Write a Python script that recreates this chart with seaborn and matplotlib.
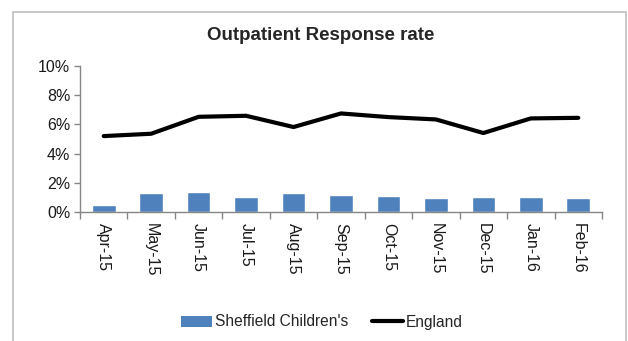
import matplotlib
matplotlib.use("Agg")
import matplotlib.pyplot as plt
from matplotlib.patches import Rectangle, Patch
from matplotlib.lines import Line2D
from matplotlib.ticker import FuncFormatter, FixedLocator
import seaborn as sns
import pandas as pd

months = ["Apr-15", "May-15", "Jun-15", "Jul-15", "Aug-15", "Sep-15",
          "Oct-15", "Nov-15", "Dec-15", "Jan-16", "Feb-16"]
sheffield = [0.45, 1.32, 1.39, 1.00, 1.32, 1.18, 1.11, 0.98, 1.05, 1.05, 0.98]
england = [5.20, 5.36, 6.52, 6.59, 5.82, 6.75, 6.50, 6.34, 5.41, 6.41, 6.45]

sns.set_theme(style="white")
plt.rcParams["font.family"] = ["Liberation Sans", "DejaVu Sans"]

df = pd.DataFrame({"month": months, "sheffield": sheffield, "england": england})

fig = plt.figure(figsize=(6.28, 3.41), dpi=100)
W, H = 628, 341
ax = fig.add_axes([80 / W, 1 - 212 / H, (602 - 80) / W, (212 - 66) / H])

bar_color = "#4F81BD"
sns.barplot(data=df, x="month", y="sheffield", color=bar_color, width=0.5,
            saturation=1, ax=ax)
sns.lineplot(data=df, x="month", y="england", color="black", linewidth=3,
             ax=ax, sort=False)

ax.set_ylim(0, 10)
ax.set_xlim(-0.5, len(months) - 0.5)
ax.set_yticks([0, 2, 4, 6, 8, 10])
ax.yaxis.set_major_formatter(FuncFormatter(lambda v, p: f"{v:.0f}%"))
ax.set_xlabel("")
ax.set_ylabel("")

axis_grey = "#868686"
for side in ["top", "right"]:
    ax.spines[side].set_visible(False)
for side in ["left", "bottom"]:
    ax.spines[side].set_color(axis_grey)
    ax.spines[side].set_linewidth(1)

# category labels centred, tick marks between categories
ax.set_xticks(range(len(months)))
ax.set_xticklabels(months, rotation=270, fontsize=11.5, color="#1a1a1a")
ax.tick_params(axis="x", which="major", length=0, pad=8)
ax.xaxis.set_minor_locator(FixedLocator([i - 0.5 for i in range(len(months) + 1)]))
ax.tick_params(axis="x", which="minor", length=5, color=axis_grey, width=1,
               direction="out", bottom=True)
ax.tick_params(axis="y", length=4, color=axis_grey, width=1, direction="out",
               left=True, labelsize=11.5, labelcolor="#1a1a1a", pad=3)

fig.text(0.5 + 13 / W / 2, 1 - 35 / H, "Outpatient Response rate",
         ha="center", va="center", fontsize=13.5, fontweight="bold")

handles = [Patch(facecolor=bar_color, edgecolor="none"),
           Line2D([0], [0], color="black", linewidth=3)]
fig.legend(handles, ["Sheffield Children's", "England"], loc="center",
           bbox_to_anchor=(322 / W, 1 - 322 / H), ncol=2, frameon=False,
           fontsize=11.2, handlelength=2.0, handletextpad=0.2, columnspacing=1.5)

fig.patches.append(Rectangle((13 / W, -0.05), (626 - 13) / W, 1.05 - 12 / H,
                             transform=fig.transFigure, fill=False,
                             edgecolor="#BFBFBF", linewidth=1.2))

fig.savefig("out.png", dpi=100)
